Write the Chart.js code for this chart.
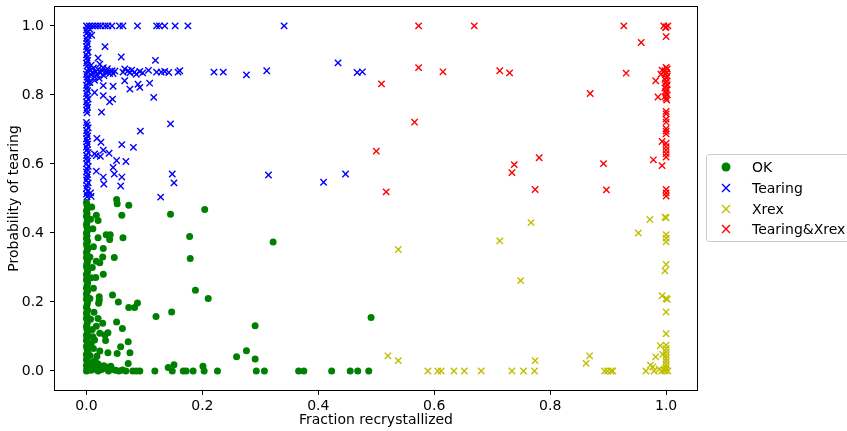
<!DOCTYPE html>
<html>
<head>
<meta charset="utf-8">
<script src="https://cdn.jsdelivr.net/npm/chart.js@4.4.0/dist/chart.umd.min.js"></script>
<style>
  html, body { margin: 0; padding: 0; background: #fff; overflow: hidden; }
  #wrap { position: relative; width: 847px; height: 431px; overflow: hidden; }
  #legend {
    position: absolute; left: 706px; top: 154px; width: 160px; height: 86px;
    border: 1px solid #cccccc; border-radius: 3px; background: rgba(255,255,255,0.8);
    font: 14px "DejaVu Sans", sans-serif; color: #000;
  }
  .row { position: absolute; left: 0; width: 100%; height: 20px; line-height: 20px; white-space: nowrap; }
  .row svg { position: absolute; left: 14px; top: 5px; }
  .row span { position: absolute; left: 45px; top: 0; }
</style>
</head>
<body>
<div id="wrap">
  <canvas id="scatter" width="847" height="431"></canvas>
  <div id="legend"></div>
</div>
<script>
// [fraction recrystallized, probability of tearing]
const ok = [
  // column at x = 0
  [0.000,0.000],[0.001,0.008],[0.000,0.016],[0.002,0.024],[0.000,0.032],[0.001,0.040],[0.000,0.048],[0.002,0.056],
  [0.001,0.064],[0.000,0.072],[0.002,0.080],[0.000,0.088],[0.001,0.096],[0.000,0.104],[0.002,0.112],[0.001,0.120],
  [0.000,0.128],[0.001,0.136],[0.002,0.144],[0.000,0.152],[0.001,0.160],[0.000,0.168],[0.002,0.176],[0.000,0.184],
  [0.001,0.192],[0.002,0.200],[0.000,0.208],[0.001,0.216],[0.000,0.224],[0.002,0.232],[0.000,0.240],[0.001,0.248],
  [0.002,0.256],[0.000,0.264],[0.001,0.272],[0.000,0.280],[0.002,0.288],[0.001,0.296],[0.000,0.304],[0.001,0.312],
  [0.002,0.320],[0.000,0.328],[0.001,0.336],[0.000,0.344],[0.002,0.352],[0.001,0.360],[0.000,0.368],[0.002,0.376],
  [0.000,0.384],[0.001,0.392],[0.000,0.400],[0.002,0.408],[0.001,0.416],[0.000,0.424],[0.001,0.432],[0.002,0.440],
  [0.000,0.448],[0.001,0.456],[0.000,0.464],[0.002,0.472],[0.001,0.480],[0.000,0.488],
  // along the bottom near x = 0
  [0.008,0.002],[0.014,0.006],[0.020,0.000],[0.026,0.004],[0.032,0.008],[0.038,0.000],[0.044,0.005],[0.050,0.002],
  [0.056,0.000],[0.062,0.003],[0.068,0.000],[0.005,0.012],[0.011,0.016],[0.017,0.010],[0.024,0.013],[0.035,0.011],
  [0.042,0.014],[0.006,0.045],[0.008,0.080],[0.007,0.150],[0.006,0.210],[0.008,0.270],[0.006,0.330],[0.007,0.440],
  [0.009,0.475],[0.011,0.412],[0.012,0.360],[0.010,0.300],[0.012,0.240],[0.013,0.170],[0.010,0.120],[0.012,0.065],
  [0.015,0.030],[0.020,0.020],[0.030,0.015],[0.010,0.025],
  [0.017,0.451],[0.020,0.436],[0.020,0.386],[0.034,0.395],[0.041,0.395],[0.040,0.381],[0.063,0.386],[0.029,0.355],
  [0.028,0.330],[0.048,0.329],[0.017,0.318],[0.023,0.314],[0.029,0.280],[0.016,0.271],[0.022,0.215],[0.022,0.205],
  [0.021,0.196],[0.045,0.220],[0.055,0.200],[0.073,0.184],[0.083,0.184],[0.088,0.197],[0.020,0.152],[0.028,0.138],
  [0.052,0.142],[0.062,0.123],[0.017,0.130],[0.023,0.109],[0.032,0.104],[0.037,0.111],[0.033,0.088],[0.011,0.099],
  [0.014,0.090],[0.072,0.085],[0.059,0.070],[0.023,0.058],[0.037,0.053],[0.053,0.051],[0.075,0.053],[0.018,0.043],
  [0.072,0.022],
  [0.052,0.497],[0.053,0.485],[0.073,0.480],[0.061,0.451],[0.145,0.454],[0.204,0.468],[0.178,0.390],[0.179,0.326],
  [0.322,0.374],[0.188,0.234],[0.210,0.210],[0.147,0.171],[0.120,0.158],[0.291,0.131],[0.259,0.041],[0.276,0.059],
  [0.291,0.035],[0.151,0.018],[0.141,0.010],[0.201,0.014],[0.491,0.155],
  [0.080,0.000],[0.086,0.000],[0.092,0.000],[0.118,0.000],[0.148,0.000],[0.167,0.000],[0.172,0.000],[0.184,0.000],
  [0.203,0.000],[0.226,0.000],[0.293,0.000],[0.307,0.000],[0.366,0.000],[0.375,0.000],[0.423,0.000],[0.455,0.000],
  [0.468,0.000],[0.487,0.000]
];

const tearing = [
  // column at x = 0
  [0.001,0.505],[0.000,0.513],[0.002,0.521],[0.000,0.529],[0.001,0.537],[0.003,0.545],[0.000,0.553],[0.001,0.561],
  [0.002,0.569],[0.000,0.577],[0.001,0.585],[0.003,0.593],[0.000,0.601],[0.002,0.609],[0.001,0.617],[0.000,0.625],
  [0.003,0.633],[0.001,0.641],[0.000,0.649],[0.002,0.657],[0.001,0.665],[0.000,0.673],[0.002,0.681],[0.001,0.689],
  [0.000,0.697],[0.003,0.705],[0.001,0.713],[0.000,0.720],[0.001,0.748],[0.000,0.756],[0.002,0.764],[0.001,0.772],
  [0.000,0.780],[0.003,0.788],[0.001,0.796],[0.000,0.804],[0.002,0.812],[0.001,0.820],[0.000,0.828],[0.003,0.836],
  [0.002,0.844],[0.001,0.852],[0.000,0.860],[0.002,0.868],[0.004,0.876],[0.001,0.884],[0.000,0.892],[0.002,0.900],
  [0.001,0.908],[0.000,0.916],[0.003,0.924],[0.001,0.932],[0.000,0.940],[0.002,0.948],[0.001,0.956],[0.000,0.964],
  [0.003,0.972],[0.001,0.980],[0.000,0.988],[0.002,0.996],[0.000,1.000],
  // top row
  [0.005,1.000],[0.010,1.000],[0.015,1.000],[0.020,1.000],[0.025,1.000],[0.032,1.000],[0.037,1.000],[0.044,1.000],
  [0.057,1.000],[0.063,1.000],[0.088,1.000],[0.121,1.000],[0.126,1.000],[0.135,1.000],[0.153,1.000],[0.175,1.000],
  [0.341,1.000],
  [0.009,0.973],[0.006,0.990],[0.032,0.940],[0.020,0.907],[0.060,0.910],[0.119,0.900],[0.434,0.893],
  // band around 0.87
  [0.006,0.872],[0.008,0.858],[0.010,0.866],[0.012,0.878],[0.014,0.852],[0.016,0.868],[0.018,0.860],[0.020,0.874],
  [0.022,0.848],[0.024,0.864],[0.027,0.870],[0.030,0.856],[0.033,0.866],[0.036,0.876],[0.040,0.862],[0.044,0.870],
  [0.008,0.886],[0.014,0.842],[0.006,0.836],
  [0.023,0.889],[0.029,0.879],[0.037,0.866],[0.046,0.862],[0.049,0.869],[0.063,0.866],[0.066,0.875],[0.072,0.870],
  [0.075,0.864],[0.078,0.872],[0.083,0.866],[0.086,0.860],[0.092,0.868],[0.097,0.864],[0.107,0.871],[0.121,0.866],
  [0.129,0.866],[0.135,0.868],[0.142,0.865],[0.158,0.866],[0.161,0.870],
  [0.220,0.866],[0.236,0.866],[0.276,0.858],[0.311,0.870],[0.467,0.865],[0.476,0.867],
  [0.046,0.825],[0.066,0.841],[0.075,0.817],[0.089,0.831],[0.092,0.822],[0.109,0.834],[0.029,0.827],[0.029,0.798],
  [0.040,0.780],[0.045,0.788],[0.116,0.793],[0.014,0.807],[0.026,0.750],[0.145,0.716],[0.093,0.695],
  // lower group
  [0.018,0.674],[0.025,0.663],[0.061,0.656],[0.081,0.648],[0.029,0.640],[0.039,0.631],[0.052,0.610],[0.068,0.607],
  [0.017,0.624],[0.046,0.590],[0.048,0.571],[0.017,0.579],[0.029,0.562],[0.061,0.562],[0.030,0.542],[0.059,0.536],
  [0.148,0.571],[0.151,0.545],[0.314,0.568],[0.409,0.547],[0.447,0.571],[0.128,0.504],[0.007,0.516],[0.008,0.506],
  [0.014,0.629],[0.024,0.622]
];

const xrex = [
  [0.538,0.352],[0.520,0.044],[0.538,0.030],[0.713,0.377],[0.767,0.430],[0.749,0.262],[0.774,0.030],
  [0.589,0.000],[0.606,0.000],[0.612,0.000],[0.634,0.000],[0.652,0.000],[0.681,0.000],[0.734,0.000],[0.754,0.000],
  [0.773,0.000],[0.862,0.022],[0.868,0.044],[0.894,0.000],[0.899,0.000],[0.905,0.000],[0.908,0.000],[0.952,0.400],
  [0.972,0.439],
  // column at x = 1
  [1.000,0.444],[0.998,0.446],[1.000,0.395],[1.000,0.385],[1.000,0.374],[1.000,0.309],[0.998,0.290],[0.993,0.218],
  [1.000,0.210],[1.002,0.208],[1.000,0.171],[1.000,0.108],[0.990,0.073],[0.982,0.041],[0.994,0.048],[0.973,0.017],
  [0.977,0.012],[0.965,0.000],[0.979,0.000],[0.992,0.000],[0.996,0.003],[1.000,0.075],[1.000,0.065],[1.000,0.055],
  [1.000,0.045],[1.000,0.036],[1.000,0.027],[1.000,0.018],[1.000,0.010],[1.000,0.004],[1.003,0.000],[0.998,0.000],
  [0.988,0.005]
];

const tearingXrex = [
  [0.573,1.000],[0.669,1.000],[0.573,0.879],[0.615,0.867],[0.713,0.870],[0.730,0.864],[0.509,0.832],[0.566,0.721],
  [0.500,0.637],[0.781,0.618],[0.738,0.598],[0.734,0.575],[0.517,0.519],[0.774,0.526],[0.927,1.000],[0.957,0.952],
  [0.931,0.863],[0.869,0.804],[0.982,0.841],[0.986,0.794],[0.993,0.665],[0.978,0.612],[0.993,0.595],[0.892,0.601],
  [0.897,0.525],[0.991,0.860],[0.993,0.872],
  // column at x = 1
  [0.996,1.000],[1.003,1.000],[1.000,0.997],[0.999,0.995],[1.000,0.969],[1.000,0.880],[1.002,0.875],[0.998,0.870],
  [1.001,0.865],[0.999,0.860],[1.002,0.855],[1.000,0.850],[0.998,0.845],[1.001,0.840],[0.999,0.835],[1.002,0.830],
  [1.000,0.825],[0.998,0.820],[1.001,0.815],[0.999,0.810],[1.000,0.805],[1.002,0.800],[0.998,0.795],[1.000,0.790],
  [1.001,0.785],[1.000,0.752],[1.000,0.745],[1.000,0.730],[1.000,0.721],[1.000,0.702],[1.000,0.695],[1.000,0.687],
  [1.000,0.660],[1.000,0.650],[1.000,0.640],[1.000,0.630],[1.000,0.620],[1.000,0.526],[1.000,0.516],[1.000,0.507]
];

const seriesNames = ['OK', 'Tearing', 'Xrex', 'Tearing&Xrex'];
const seriesColors = ['#008000', '#0000ff', '#bfbf00', '#ff0000'];
const xTicks = [0.0, 0.2, 0.4, 0.6, 0.8, 1.0];
const yTicks = [0.0, 0.2, 0.4, 0.6, 0.8, 1.0];

const font = { family: '"DejaVu Sans", sans-serif', size: 14 };
const toPoints = arr => arr.map(p => ({ x: p[0], y: p[1] }));

function crossSet(i, arr) {
  return {
    label: seriesNames[i],
    data: toPoints(arr),
    pointStyle: 'crossRot',
    pointRadius: 4.5,
    pointBorderWidth: 1.4,
    borderColor: seriesColors[i],
    backgroundColor: seriesColors[i],
    order: 4 - i
  };
}

// box around the plot area, like axis spines
const frame = {
  id: 'frame',
  afterDraw(chart) {
    const { ctx, chartArea: a } = chart;
    ctx.save();
    ctx.strokeStyle = '#000';
    ctx.lineWidth = 1;
    ctx.strokeRect(Math.round(a.left) + 0.5, Math.round(a.top) + 0.5,
      Math.round(a.right - a.left) - 1, Math.round(a.bottom - a.top) - 1);
    ctx.restore();
  }
};

// fixed axis boxes, no extra room for the end labels
function fitX(s) { s.height = 40; s.paddingLeft = 0; s.paddingRight = 0; }
function fitY(s) { s.width = 54; s.paddingTop = 0; s.paddingBottom = 0; }

new Chart(document.getElementById('scatter'), {
  type: 'scatter',
  data: {
    datasets: [
      {
        label: seriesNames[0],
        data: toPoints(ok),
        pointStyle: 'circle',
        pointRadius: 3.5,
        pointBorderWidth: 0,
        borderColor: seriesColors[0],
        backgroundColor: seriesColors[0],
        order: 4
      },
      crossSet(1, tearing),
      crossSet(2, xrex),
      crossSet(3, tearingXrex)
    ]
  },
  options: {
    responsive: false,
    animation: false,
    layout: { padding: { top: 5, right: 149, left: 0, bottom: 0 } },
    plugins: { legend: { display: false }, tooltip: { enabled: false } },
    scales: {
      x: {
        type: 'linear',
        min: -0.056,
        max: 1.055,
        afterFit: fitX,
        afterBuildTicks: s => { s.ticks = xTicks.map(v => ({ value: v })); },
        grid: { drawOnChartArea: false, tickLength: 4, color: '#000' },
        border: { display: false },
        ticks: { padding: 3, color: '#000', font, maxRotation: 0, callback: v => v.toFixed(1) },
        title: { display: true, text: 'Fraction recrystallized', color: '#000', font, padding: { top: 0, bottom: 2 } }
      },
      y: {
        type: 'linear',
        min: -0.058,
        max: 1.058,
        afterFit: fitY,
        afterBuildTicks: s => { s.ticks = yTicks.map(v => ({ value: v })); },
        grid: { drawOnChartArea: false, tickLength: 4, color: '#000' },
        border: { display: false },
        ticks: { padding: 6, color: '#000', font, callback: v => v.toFixed(1) },
        title: { display: true, text: 'Probability of tearing', color: '#000', font, padding: { top: 6, bottom: 0 } }
      }
    }
  },
  plugins: [frame]
});

// legend on the right
const legend = document.getElementById('legend');
seriesNames.forEach((name, i) => {
  const c = seriesColors[i];
  const mark = i === 0
    ? `<circle cx="5" cy="5" r="4.5" fill="${c}"/>`
    : `<path d="M1 1 L9 9 M9 1 L1 9" stroke="${c}" stroke-width="1.4"/>`;
  const row = document.createElement('div');
  row.className = 'row';
  row.style.top = (2 + i * 20.8) + 'px';
  row.innerHTML = `<svg width="10" height="10">${mark}</svg><span>${name}</span>`;
  legend.appendChild(row);
});
</script>
</body>
</html>
